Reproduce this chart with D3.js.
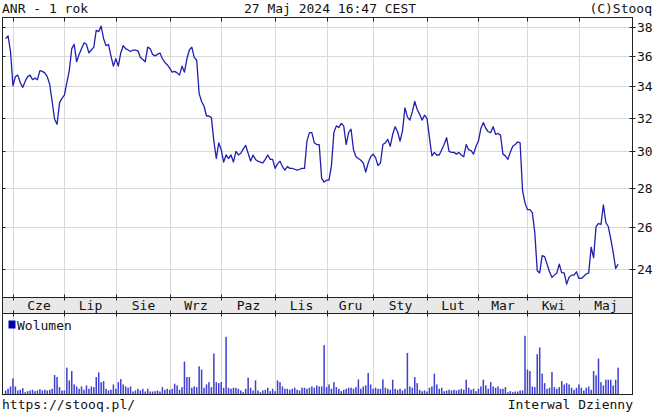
<!DOCTYPE html>
<html>
<head>
<meta charset="utf-8">
<script src="https://cdn.jsdelivr.net/npm/d3@7"></script>
<style>
  html, body { margin: 0; padding: 0; background: #fff; }
  svg text { font-family: "DejaVu Sans Mono", monospace; font-size: 13px; fill: #111; }
</style>
</head>
<body>
<div id="chart"></div>
<script>
// Kursy zamkniecia ANR, dzienne, ostatni rok
const closes = [
  37.2, 37.4, 36.3, 34.0, 34.6, 34.7, 34.2, 33.9, 34.3, 34.6,
  34.7, 34.4, 34.5, 34.4, 35.0, 34.95, 34.85, 34.6, 34.1, 33.0,
  31.9, 31.6, 32.9, 33.2, 33.4, 34.2, 35.0, 36.5, 36.8, 35.6,
  36.1, 36.5, 36.9, 36.8, 36.2, 36.4, 36.6, 37.8, 37.7, 38.1,
  37.2, 36.7, 36.8, 36.0, 35.3, 35.8, 35.3, 36.2, 36.7, 36.5,
  36.4, 36.3, 36.4, 36.4, 36.35, 35.9, 35.75, 35.6, 36.6, 36.5,
  36.1, 36.0, 36.1, 36.2, 35.8, 35.55, 35.4, 35.15, 34.9, 34.95,
  34.85, 34.7, 35.3, 34.9, 35.8, 36.4, 36.6, 35.9, 35.7, 33.5,
  33.0, 32.7, 32.1, 32.1, 32.0, 30.6, 29.6, 30.5, 30.1, 29.4,
  29.8, 29.6, 29.8, 29.4, 30.0, 29.8, 29.9, 30.15, 30.35, 29.9,
  29.45, 29.8, 29.55, 29.45, 29.4, 29.35, 29.55, 29.8, 29.55, 29.55,
  29.05, 29.3, 29.45, 29.15, 28.95, 29.15, 29.05, 29.05, 29.0, 28.95,
  29.0, 29.05, 29.05, 30.6, 31.1, 31.1, 30.5, 30.4, 30.4, 28.5,
  28.3, 28.4, 28.4, 29.2, 31.1, 31.5, 31.4, 31.65, 31.5, 30.4,
  31.1, 31.3, 30.1, 29.7, 29.6, 29.5, 29.35, 28.85, 29.35, 29.7,
  29.85, 29.65, 29.2, 29.35, 30.4, 30.5, 30.7, 30.3, 31.0, 31.45,
  31.15, 30.6, 31.2, 32.6, 32.05, 31.85, 32.35, 33.0, 32.5, 32.2,
  31.85, 32.15, 31.95, 30.8, 29.75, 29.95, 29.8, 29.8, 30.1, 30.4,
  30.8, 30.0, 29.95, 29.95, 29.85, 29.95, 29.8, 29.7, 30.4, 30.1,
  30.05, 29.85, 30.3, 30.6, 31.35, 31.7, 31.35, 31.15, 31.1, 31.45,
  31.0, 31.05, 30.95, 29.85, 29.75, 29.55, 29.95, 30.3, 30.4, 30.55,
  30.5, 27.85, 27.2, 26.85, 26.85, 26.7, 25.7, 23.9, 23.8, 24.6,
  24.55, 24.2, 23.85, 23.6, 23.7, 23.8, 24.2, 23.8, 23.8, 23.3,
  23.6, 23.7, 23.7, 23.85, 23.55, 23.55, 23.65, 23.75, 23.8, 25.0,
  24.5, 26.0, 26.15, 26.1, 27.1, 26.2, 26.0, 25.4, 24.75, 24.0,
  24.2
];

// Wolumen (tys. szt.)
const volumes = [
  4, 5.7, 8, 16, 8, 4, 4.7, 6.3, 2.3, 3.3,
  4, 4.7, 3.3, 4, 5.3, 4, 4.7, 4, 4.7, 5.7,
  19.3, 17.3, 7.3, 4, 4, 26.7, 14, 23.3, 10, 8,
  5.7, 8, 4.7, 9, 5.7, 8, 7.3, 17.3, 22, 12.3,
  13.3, 5.7, 4, 4.7, 10, 5.7, 12.3, 15.3, 10, 8,
  6.7, 8, 3, 4, 5.7, 4, 5.7, 3, 5.7, 3,
  3, 3.3, 4, 3, 7.3, 4.7, 5.7, 4.7, 5.7, 10.7,
  9, 4.7, 7.3, 32.7, 17.3, 17.3, 6.7, 8, 7.3, 28,
  24.7, 6.7, 10, 12.3, 7.3, 40.7, 12.3, 11.3, 12.3, 6.7,
  57.3, 6.7, 5.7, 6.7, 6.7, 5.7, 4, 2.3, 5.7, 16.7,
  6.7, 4, 14, 4, 2.3, 4, 4.7, 6.7, 3.3, 5.7,
  3.3, 14, 12.3, 8, 5.7, 5.7, 4.7, 5.7, 6.7, 4.7,
  4, 6.7, 6.7, 5.7, 6.7, 8, 6.7, 9, 8, 8,
  49, 7.3, 10, 5.7, 12.3, 7.3, 5.7, 3.3, 4.7, 5.7,
  6.7, 6.7, 5.7, 7.3, 15, 5.7, 8, 9, 21.3, 10,
  5.7, 6.7, 5.7, 5.7, 15, 6.7, 5.7, 4.7, 14.7, 5.7,
  4.7, 5.7, 4, 5.7, 41.3, 8, 6.7, 17.3, 11.3, 4.7,
  3.3, 4, 3, 6.7, 8, 20.7, 10, 5.7, 6.7, 3.3,
  4, 4.7, 4, 4.7, 4, 4.7, 5.7, 4.7, 14.7, 6.7,
  4.7, 5.7, 3.3, 5.7, 8, 14.7, 9, 5.7, 12.3, 8,
  6.7, 8, 5.7, 5.7, 7.3, 2.3, 3.3, 2.3, 3, 3,
  4, 4, 58.3, 24.7, 23.3, 8, 7.3, 40, 46.7, 20.7,
  11.3, 5.7, 6.7, 22.3, 7.3, 5.7, 7.3, 13.3, 10, 11.3,
  10, 6.7, 4.7, 6.7, 10, 6.7, 4, 6.7, 8, 4.7,
  23.3, 19, 35.7, 12.3, 9, 14.7, 14.7, 14.7, 9, 14.7,
  26.7
];

// Miesiace: indeks pierwszej sesji i etykieta
const monthStarts = [3, 24, 45, 67, 88, 110, 131, 150, 172, 193, 213, 234];
const monthLabels = ["Cze", "Lip", "Sie", "Wrz", "Paz", "Lis", "Gru", "Sty", "Lut", "Mar", "Kwi", "Maj"];

const priceTicks = [24, 26, 28, 30, 32, 34, 36, 38];

const width = 654;
const height = 414;

// Uklad paneli
const left = 2.5, right = 632.5;
const mainTop = 17.5, mainBottom = 297.5;
const bandBottom = 313.5;
const volBottom = 394.5;

const svg = d3.select("#chart")
    .append("svg")
    .attr("width", width)
    .attr("height", height)
    .attr("viewBox", `0 0 ${width} ${height}`);

const x = d3.scaleLinear()
    .domain([0, closes.length - 1])
    .range([5.6, 618.1]);

const y = d3.scaleLog()
    .domain([22.71, 38.73])
    .range([mainBottom, mainTop]);

const yVol = d3.scaleLinear()
    .domain([0, d3.max(volumes) * 1.38])
    .range([volBottom, bandBottom]);

// Naglowek
svg.append("text").attr("x", 2).attr("y", 13).text("ANR - 1 rok");
svg.append("text").attr("x", 330).attr("y", 13).attr("text-anchor", "middle").text("27 Maj 2024 16:47 CEST");
svg.append("text").attr("x", 652).attr("y", 13).attr("text-anchor", "end").text("(C)Stooq");

// Siatka - panel glowny
const grid = svg.append("g").attr("stroke", "#d9d9d9").attr("stroke-width", 1);

grid.selectAll(".hgrid")
    .data(priceTicks)
    .enter()
    .append("line")
    .attr("x1", left).attr("x2", right)
    .attr("y1", d => Math.round(y(d)) + 0.5)
    .attr("y2", d => Math.round(y(d)) + 0.5);

const monthX = monthStarts.map(i => Math.round(x(i)) + 0.5);

grid.selectAll(".vgrid")
    .data(monthX)
    .enter()
    .append("line")
    .attr("x1", d => d).attr("x2", d => d)
    .attr("y1", mainTop).attr("y2", mainBottom);

grid.selectAll(".vgridvol")
    .data(monthX)
    .enter()
    .append("line")
    .attr("x1", d => d).attr("x2", d => d)
    .attr("y1", bandBottom).attr("y2", volBottom);

// Pasek miesiecy
svg.append("rect")
    .attr("x", left).attr("y", mainBottom)
    .attr("width", right - left).attr("height", bandBottom - mainBottom)
    .attr("fill", "#e8e8e8");

const monthEdges = monthX.concat([right]);
svg.selectAll(".mlabel")
    .data(monthLabels)
    .enter()
    .append("text")
    .attr("x", (d, i) => (monthEdges[i] + monthEdges[i + 1]) / 2)
    .attr("y", mainBottom + 12)
    .attr("text-anchor", "middle")
    .text(d => d);

// Wolumen
svg.append("g")
    .selectAll("rect")
    .data(volumes)
    .enter()
    .append("rect")
    .attr("x", (d, i) => x(i) - 0.75)
    .attr("width", 1.5)
    .attr("y", d => yVol(d))
    .attr("height", d => volBottom - yVol(d))
    .attr("fill", "#3f3fd2");

// Legenda wolumenu
svg.append("rect").attr("x", 8.5).attr("y", 320.5).attr("width", 7).attr("height", 8)
    .attr("fill", "#0000b0");
svg.append("text").attr("x", 17).attr("y", 330).text("Wolumen");

// Linia kursu
const line = d3.line()
    .x((d, i) => x(i))
    .y(d => y(d));

svg.append("path")
    .datum(closes)
    .attr("fill", "none")
    .attr("stroke", "#1f1fb0")
    .attr("stroke-width", 1.3)
    .attr("stroke-linejoin", "round")
    .attr("d", line);

// Ramki
const frame = svg.append("g").attr("fill", "none").attr("stroke", "#222").attr("stroke-width", 1);
frame.append("rect").attr("x", left).attr("y", mainTop).attr("width", right - left).attr("height", mainBottom - mainTop);
frame.append("rect").attr("x", left).attr("y", mainBottom).attr("width", right - left).attr("height", bandBottom - mainBottom);
frame.append("rect").attr("x", left).attr("y", bandBottom).attr("width", right - left).attr("height", volBottom - bandBottom);

// Znaczniki miesiecy
const ticks = svg.append("g").attr("stroke", "#222").attr("stroke-width", 1);
monthX.forEach(mx => {
    ticks.append("line").attr("x1", mx).attr("x2", mx).attr("y1", mainTop).attr("y2", mainTop + 4);
    ticks.append("line").attr("x1", mx).attr("x2", mx).attr("y1", mainBottom - 3).attr("y2", mainBottom + 3);
    ticks.append("line").attr("x1", mx).attr("x2", mx).attr("y1", bandBottom - 3).attr("y2", bandBottom + 3);
});

// Os Y po prawej
priceTicks.forEach(v => {
    const ty = Math.round(y(v)) + 0.5;
    ticks.append("line").attr("x1", right - 3).attr("x2", right + 3).attr("y1", ty).attr("y2", ty);
    ticks.append("line").attr("x1", left).attr("x2", left + 3).attr("y1", ty).attr("y2", ty);
    svg.append("text")
        .attr("x", 637)
        .attr("y", ty + 4.5)
        .text(v);
});

// Stopka
svg.append("text").attr("x", 2).attr("y", 409).text("https://stooq.pl/");
svg.append("text").attr("x", 633).attr("y", 409).attr("text-anchor", "end").text("Interwal Dzienny");
</script>
</body>
</html>
